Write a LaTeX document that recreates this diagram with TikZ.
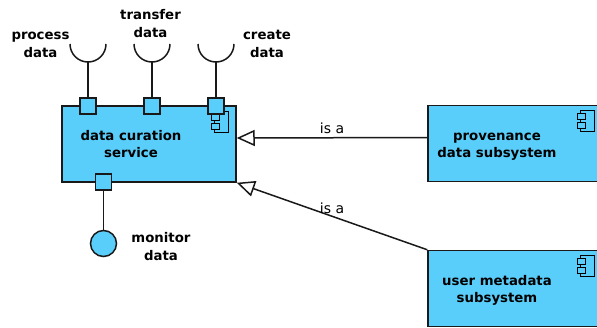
\documentclass[tikz,border=0pt]{standalone}
\usepackage{fontspec}
\setmainfont{DejaVu Sans}
\usetikzlibrary{arrows.meta, positioning}

\definecolor{compblue}{RGB}{90,206,250}
\definecolor{edgegray}{RGB}{25,25,25}

\tikzset{
  comp/.style={draw=edgegray, fill=compblue, minimum width=174pt, minimum height=76pt, inner sep=0pt},
  compname/.style={align=center, inner sep=0pt, xshift=-18pt, yshift=-2pt,
    font=\fontsize{13.3}{17}\selectfont\bfseries},
  port/.style={draw=edgegray, fill=compblue, minimum size=16pt, inner sep=0pt},
  iface/.style={align=center, inner sep=0pt, font=\fontsize{13.3}{18}\selectfont\bfseries},
  isa/.style={draw=edgegray, -{Triangle[open, length=18pt, width=16pt]}},
  isalabel/.style={font=\fontsize{14}{16}\selectfont},
  compicon/.pic={
    \draw[fill=compblue] (-22,6) rectangle (-8,27);
    \draw[fill=compblue] (-25,9) rectangle (-17,15);
    \draw[fill=compblue] (-25,18) rectangle (-17,24);
  }
}

\begin{document}
\begin{tikzpicture}[x=1pt, y=-1pt, line width=1.5pt]
  \useasboundingbox (0,0) rectangle (597,327);

  % components
  \node[comp, label={[compname]center:\strut data curation\\\strut service}] (dcs) at (149,144) {};
  \node[comp, label={[compname]center:\strut provenance\\\strut data subsystem}] (prov) at (515,143.5) {};
  \node[comp, below=67.5pt of prov, label={[compname]center:\strut user metadata\\\strut subsystem}] (user) {};

  \pic[line width=1.3pt] at (dcs.north east) {compicon};
  \pic[line width=1.3pt] at (prov.north east) {compicon};
  \pic[line width=1.3pt] at (user.north east) {compicon};

  % required interfaces
  \coordinate (pds) at (88,62);
  \coordinate (tds) at (152,62);
  \coordinate (cds) at (216,62);
  \foreach \s in {pds, tds, cds}
    \draw[edgegray] ([xshift=-18pt, yshift=18pt]\s) arc[start angle=180, end angle=360, radius=18pt];

  \node[port] (pd) at (88,106) {};
  \node[port] (td) at (152,106) {};
  \node[port] (cd) at (216,106) {};
  \node[port] (mp) at (103.5,182) {};

  \draw[edgegray]
    (pd.north) -- (pds)
    (td.north) -- (tds)
    (cd.north) -- (cds);

  \node[iface] (pdl) at (40.5,44.4) {\strut process\\\strut data};
  \node[iface] (tdl) at (150.5,24.6) {\strut transfer\\\strut data};
  \node[iface] (cdl) at (267,44.4) {\strut create\\\strut data};

  % provided interface
  \node[circle, draw=edgegray, fill=compblue, minimum size=26pt, inner sep=0pt, below=39pt of mp] (md) {};
  \draw[edgegray] (mp.south) -- (md.north);
  \node[iface] (mdl) at (161,248) {\strut monitor\\\strut data};

  % generalisations
  \draw[isa] ([yshift=6pt]prov.west) -- node[above, isalabel] {is a} ([yshift=6pt]dcs.east);
  \draw[isa] (user.north west) -- node[above, inner sep=2pt, isalabel] {is a} (dcs.south east);
\end{tikzpicture}
\end{document}
